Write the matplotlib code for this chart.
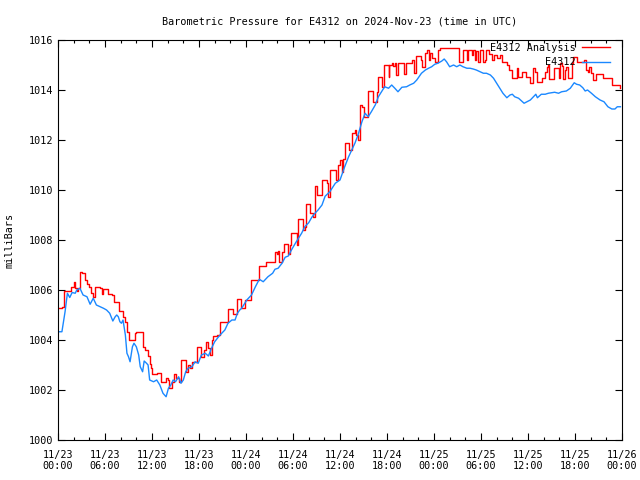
import numpy as np
import matplotlib
matplotlib.use("Agg")
import matplotlib.pyplot as plt
import matplotlib.dates as mdates

START = np.datetime64("2024-11-23T00:00")

# analysis (step series): hours since start, pressure in mb
red_hours = [0.0, 0.5, 0.8, 1.6, 2.0, 2.2, 2.4, 2.6, 2.8, 3.1, 3.4, 3.7, 4.0, 4.2, 4.5, 4.7,
             5.4, 5.6, 5.8, 6.4, 6.85, 7.1, 7.8, 8.3, 8.55, 8.8, 9.0, 9.8, 10.0, 10.8, 11.1,
             11.45, 11.7, 11.9, 12.0, 12.6, 13.2, 13.75, 14.0, 14.2, 14.5, 14.85, 15.1, 15.45,
             15.65, 16.4, 16.6, 16.85, 17.1, 17.7, 18.3, 18.7, 18.9, 19.2, 19.4, 19.6, 19.8,
             20.3, 20.7, 21.65, 22.4, 22.8, 23.4, 23.9, 24.7, 25.6, 26.6, 27.7, 27.9, 28.1,
             28.25, 28.55, 28.8, 29.4, 29.6, 29.8, 30.5, 30.7, 31.3, 31.5, 31.7, 32.2, 32.5,
             32.8, 33.0, 33.75, 34.3, 34.45, 34.7, 35.5, 35.7, 36.0, 36.2, 36.4, 36.6, 37.1,
             37.5, 37.9, 38.1, 38.3, 38.5, 38.8, 39.1, 39.6, 40.25, 40.7, 40.9, 41.4, 41.65,
             42.2, 42.3, 42.6, 42.8, 43.0, 43.2, 43.4, 44.2, 44.4, 45.2, 45.5, 45.7, 46.35,
             46.5, 46.8, 47.1, 47.3, 47.5, 47.7, 48.1, 48.5, 48.8, 51.2, 51.7, 52.2, 52.4,
             52.8, 53.0, 53.2, 53.4, 53.6, 53.9, 54.3, 54.5, 54.7, 55.0, 55.4, 55.7, 56.0,
             56.4, 56.7, 57.3, 57.6, 57.9, 58.55, 58.75, 59.2, 59.8, 60.2, 60.6, 60.9, 61.2,
             61.75, 62.2, 62.4, 62.6, 62.7, 63.3, 63.9, 64.1, 64.3, 64.5, 64.7, 64.9, 65.1,
             65.6, 65.8, 66.3, 67.2, 67.4, 67.6, 67.8, 68.1, 68.3, 68.7, 69.6, 70.7, 71.8]
red_mb = [1005.27, 1005.33, 1005.96, 1006.13, 1006.31, 1006.07, 1005.96, 1006.07, 1006.73,
          1006.67, 1006.40, 1006.23, 1006.13, 1005.87, 1005.73, 1006.13, 1006.07, 1005.83,
          1006.04, 1005.83, 1005.80, 1005.53, 1005.16, 1004.93, 1004.73, 1004.33, 1004.00,
          1004.27, 1004.31, 1003.73, 1003.60, 1003.35, 1003.05, 1002.87, 1002.64, 1002.69,
          1002.33, 1002.47, 1002.40, 1002.07, 1002.33, 1002.64, 1002.47, 1002.33, 1003.20,
          1002.73, 1003.00, 1002.87, 1003.13, 1003.73, 1003.33, 1003.60, 1003.93, 1003.67,
          1003.40, 1004.00, 1004.16, 1004.20, 1004.73, 1005.23, 1005.05, 1005.63, 1005.27,
          1005.60, 1006.40, 1006.96, 1007.13, 1007.53, 1007.44, 1007.57, 1007.13, 1007.53,
          1007.84, 1007.44, 1007.80, 1008.27, 1007.80, 1008.83, 1008.40, 1008.53, 1009.44,
          1009.07, 1008.93, 1010.16, 1009.80, 1010.40, 1010.27, 1009.73, 1010.80, 1010.40,
          1011.00, 1011.20, 1010.73, 1011.23, 1011.87, 1011.60, 1012.27, 1012.40, 1012.20,
          1012.00, 1013.40, 1013.33, 1012.93, 1013.97, 1013.53, 1013.93, 1014.53, 1014.13,
          1015.00, 1014.53, 1015.00, 1015.07, 1014.96, 1015.07, 1014.60, 1015.09, 1014.64,
          1015.09, 1015.20, 1014.69, 1015.38, 1015.20, 1014.93, 1015.47, 1015.60, 1015.20,
          1015.47, 1015.27, 1015.13, 1015.60, 1015.67, 1015.13, 1015.60, 1015.20, 1015.60,
          1015.40, 1015.60, 1015.20, 1015.55, 1015.13, 1015.60, 1015.13, 1015.20, 1015.60,
          1015.45, 1015.20, 1015.40, 1015.27, 1015.40, 1015.13, 1015.00, 1014.80, 1014.47,
          1014.87, 1014.53, 1014.73, 1014.53, 1014.27, 1014.87, 1014.73, 1014.33, 1014.47,
          1014.73, 1014.93, 1015.00, 1014.43, 1014.87, 1014.47, 1015.07, 1014.95, 1014.43,
          1014.80, 1014.93, 1014.47, 1015.07, 1015.33, 1015.13, 1015.20, 1014.80, 1014.73,
          1014.93, 1014.67, 1014.40, 1014.64, 1014.47, 1014.20, 1014.07]

# station observations
blue_hours = [0, 0.5, 0.9, 1.2, 1.5, 1.8, 2.2, 2.4, 2.8, 3.0, 3.2, 3.7, 4.1, 4.5, 4.9, 5.4,
              5.8, 6.2, 6.6, 7.0, 7.3, 7.5, 7.7, 7.9, 8.1, 8.3, 8.6, 8.8, 9.0, 9.2, 9.5, 9.7,
              10.0, 10.3, 10.5, 10.8, 11.0, 11.3, 11.5, 11.7, 12.2, 12.6, 13.0, 13.4, 13.8,
              14.1, 14.4, 14.7, 15.0, 15.4, 15.7, 16.0, 16.3, 16.6, 17.1, 17.5, 17.9, 18.3,
              18.8, 19.2, 19.6, 20.0, 20.5, 20.9, 21.3, 21.7, 22.2, 22.6, 22.9, 23.2, 23.45,
              24.1, 24.7, 25.2, 25.7, 26.2, 26.8, 27.4, 27.7, 28.1, 28.6, 29.0, 29.4, 29.8,
              30.3, 30.7, 31.1, 31.5, 32.0, 32.4, 32.8, 33.2, 33.7, 34.1, 34.7, 35.4, 36.0,
              36.6, 37.1, 37.5, 37.9, 38.3, 38.8, 39.2, 39.6, 40.0, 40.5, 40.9, 41.3, 41.7,
              42.2, 42.6, 43.0, 43.4, 43.9, 44.5, 44.9, 45.4, 45.8, 46.4, 46.9, 47.3, 47.7,
              48.1, 48.5, 49.0, 49.3, 49.6, 50.0, 50.5, 50.9, 51.3, 51.7, 52.2, 52.6, 53.0,
              53.4, 53.9, 54.3, 54.7, 55.2, 55.6, 56.0, 56.4, 56.8, 57.3, 57.7, 58.0, 58.3,
              58.8, 59.5, 60.3, 60.7, 61.0, 61.2, 61.7, 62.2, 62.6, 63.4, 63.9, 64.3, 64.9,
              65.4, 65.7, 65.9, 66.2, 66.6, 67.0, 67.3, 67.6, 68.1, 68.6, 69.2, 69.7, 70.2,
              70.7, 71.1, 71.4, 71.8]
blue_mb = [1004.33, 1004.33, 1005.13, 1005.87, 1005.70, 1005.90, 1005.87, 1006.00, 1006.07,
           1005.93, 1005.80, 1005.73, 1005.43, 1005.67, 1005.40, 1005.33, 1005.27, 1005.20,
           1005.07, 1004.76, 1004.93, 1005.00, 1004.93, 1004.73, 1004.67, 1004.80, 1004.20,
           1003.47, 1003.33, 1003.13, 1003.73, 1003.87, 1003.73, 1003.40, 1002.93, 1002.73,
           1003.16, 1003.07, 1003.00, 1002.40, 1002.33, 1002.40, 1002.20, 1001.87, 1001.73,
           1002.07, 1002.20, 1002.40, 1002.33, 1002.53, 1002.27, 1002.40, 1002.73, 1002.87,
           1002.93, 1003.13, 1003.07, 1003.40, 1003.47, 1003.36, 1003.67, 1003.93, 1004.13,
           1004.27, 1004.40, 1004.67, 1004.80, 1004.80, 1005.07, 1005.20, 1005.27, 1005.60,
           1005.80, 1006.13, 1006.43, 1006.33, 1006.53, 1006.67, 1006.83, 1006.87, 1007.07,
           1007.31, 1007.36, 1007.60, 1007.87, 1008.07, 1008.27, 1008.53, 1008.69, 1008.91,
           1009.07, 1009.20, 1009.40, 1009.75, 1009.93, 1010.27, 1010.40, 1010.93, 1011.33,
           1011.60, 1011.87, 1012.20, 1012.73, 1013.07, 1012.93, 1013.13, 1013.40, 1013.73,
           1013.93, 1014.13, 1014.07, 1014.20, 1014.07, 1013.93, 1014.11, 1014.13, 1014.20,
           1014.27, 1014.40, 1014.67, 1014.80, 1014.87, 1014.93, 1015.03, 1015.07, 1015.16,
           1015.24, 1015.13, 1014.93, 1015.00, 1014.93, 1015.00, 1014.93, 1014.87, 1014.87,
           1014.84, 1014.80, 1014.73, 1014.67, 1014.67, 1014.60, 1014.47, 1014.27, 1014.07,
           1013.87, 1013.69, 1013.80, 1013.83, 1013.73, 1013.67, 1013.47, 1013.60, 1013.73,
           1013.83, 1013.69, 1013.83, 1013.83, 1013.87, 1013.91, 1013.87, 1013.93, 1013.96,
           1014.07, 1014.20, 1014.29, 1014.23, 1014.20, 1014.09, 1013.96, 1014.00, 1013.87,
           1013.73, 1013.60, 1013.53, 1013.33, 1013.24, 1013.24, 1013.33, 1013.33]


def to_times(hours):
    mins = np.round(np.array(hours) * 60).astype(int)
    return START + mins.astype("timedelta64[m]")


plt.rcParams["font.family"] = ["DejaVu Sans Mono"]
FS = 7.3

fig = plt.figure(figsize=(6.4, 4.8), dpi=100)
ax = fig.add_axes([58 / 640, 40 / 480, 564 / 640, 400 / 480])

ax.plot(to_times(red_hours), red_mb, color="#ff0000", lw=1.0,
        drawstyle="steps-post", label="E4312 Analysis")
ax.plot(to_times(blue_hours), blue_mb, color="#1a88ff", lw=1.0, label="E4312")

ax.set_xlim(START, START + np.timedelta64(72, "h"))
ax.set_ylim(1000, 1016)
ax.set_yticks(np.arange(1000, 1017, 2))

ax.xaxis.set_major_locator(mdates.HourLocator(byhour=[0, 6, 12, 18]))
ax.xaxis.set_minor_locator(mdates.HourLocator(interval=2))
ax.xaxis.set_major_formatter(mdates.DateFormatter("%m/%d\n%H:%M"))

ax.tick_params(which="both", direction="in", top=True, right=True, labelsize=FS, width=0.8)
ax.tick_params(which="major", length=5)
ax.tick_params(which="minor", length=2.5)
ax.tick_params(axis="x", pad=7)
for s in ax.spines.values():
    s.set_linewidth(0.8)

ax.set_title("Barometric Pressure for E4312 on 2024-Nov-23 (time in UTC)", fontsize=FS, pad=11)
ax.set_ylabel("milliBars", fontsize=FS, labelpad=10)

ax.legend(loc="upper right", bbox_to_anchor=(1 - 12 / 564, 1 - 3 / 400),
          frameon=False, markerfirst=False, fontsize=FS,
          handlelength=2.8, borderaxespad=0.0, borderpad=0.0, labelspacing=0.4,
          handletextpad=0.6)

fig.savefig("out.png", dpi=100)
